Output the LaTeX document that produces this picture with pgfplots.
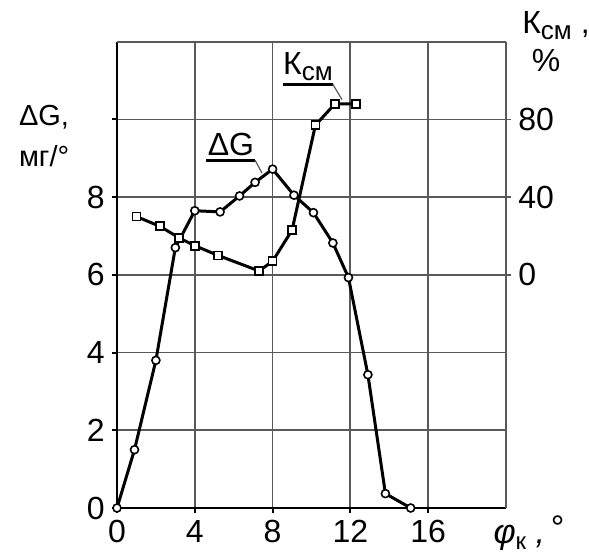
\documentclass[border=0pt]{standalone}
\usepackage{pgfplots}
\pgfplotsset{compat=1.18}
\usepackage{fontspec}
\setmainfont{Liberation Sans}

\definecolor{gridgray}{gray}{0.35}

\begin{document}
\begin{tikzpicture}
\useasboundingbox (-58.5pt,-24pt) rectangle (236pt,254pt);
\pgfplotsset{
  every axis/.append style={
    at={(0,0)}, anchor=south west, scale only axis,
    width=194.5pt, height=233.15pt,
    xmin=0, xmax=20, clip=false,
    font=\fontsize{16}{19}\selectfont,
    /pgf/number format/assume math mode=true,
    tick align=outside, major tick length=2.6pt,
  },
}
% left axis: Delta G, mg/deg
\begin{axis}[
  ymin=0, ymax=12,
  axis x line*=bottom, axis y line*=left,
  axis line style={black, line width=1.2pt},
  xtick={0,4,8,12,16}, ytick={0,2,...,10},
  yticklabels={0,2,4,6,8,},
  extra x ticks={20}, extra x tick labels={},
  extra y ticks={12}, extra y tick labels={},
  extra tick style={grid=major, major tick length=0pt},
  grid=major, major grid style={gridgray, line width=0.9pt},
  tick style={black, line width=1pt},
]
\addplot[black, line width=1.5pt, mark=*, mark size=2pt,
  mark options={fill=white, line width=0.8pt}] coordinates {
  (0,0) (0.9,1.5) (2,3.8) (3,6.7) (4,7.65) (5.3,7.62) (6.3,8.03)
  (7.1,8.38) (8,8.72) (9.1,8.05) (10.1,7.6) (11.1,6.82) (11.9,5.93)
  (12.9,3.43) (13.8,0.37) (15.1,0)
};
\node[anchor=west, font=\fontsize{14.5}{17}\selectfont] at (axis description cs:-0.27,0.837) {ΔG,};
\node[anchor=west, font=\fontsize{14.5}{17}\selectfont] at (axis description cs:-0.27,0.755) {мг/°};
\node at (axis cs:5.86,9.35) {ΔG};
\draw[black, line width=1.3pt] (axis cs:4.6,8.95) -- (axis cs:7.1,8.95);
\draw[gridgray, line width=0.6pt] (axis cs:7.1,8.95) -- (axis cs:7.45,8.62);
\node at (axis cs:9.82,11.36) {К\raisebox{-0.35ex}{\fontsize{13}{13}\selectfont см}};
\draw[black, line width=1.3pt] (axis cs:8.53,10.9) -- (axis cs:11.1,10.9);
\draw[gridgray, line width=0.6pt] (axis cs:11.1,10.9) -- (axis cs:11.57,10.51);
\node[anchor=west, inner sep=0pt] at (axis description cs:1.041,1.034) {К\raisebox{-0.35ex}{\fontsize{13}{13}\selectfont см} ,};
\node at (axis description cs:1.103,0.959) {\%};
\node[anchor=base west, inner sep=0pt, font=\fontsize{17}{19}\selectfont] at (axis description cs:0.967,-0.077) {\itshape φ\raisebox{-0.3ex}{\upshape\fontsize{12}{12}\selectfont к} ,\,\raisebox{0.25ex}{\upshape °}};
\end{axis}
% right axis: K_cm, %
\begin{axis}[
  ymin=-120, ymax=120,
  axis x line=none, axis y line*=right,
  y axis line style={gridgray, line width=0.9pt},
  ytick={0,40,80},
  tick style={gridgray, line width=0.9pt},
]
\addplot[black, line width=1.5pt, mark=square*, mark size=2pt,
  mark options={fill=white, line width=0.8pt}] coordinates {
  (1,30) (2.2,25) (3.2,19) (4,15) (5.2,10) (7.3,2) (8,7) (9,23)
  (10.2,77) (11.2,88) (12.3,88)
};
\end{axis}
\end{tikzpicture}
\end{document}
